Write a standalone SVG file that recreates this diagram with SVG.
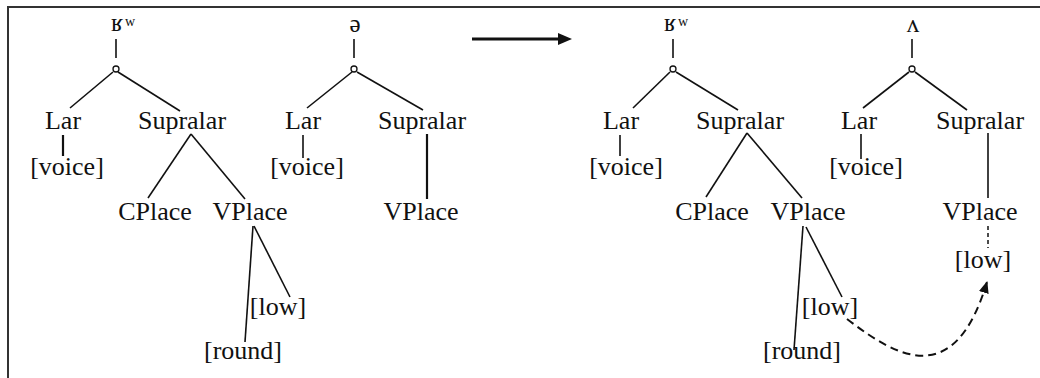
<svg xmlns="http://www.w3.org/2000/svg" width="1040" height="378" viewBox="0 0 1040 378">
<style>
text{font-family:"Liberation Serif","Times New Roman",serif;fill:#111;}
.t{font-size:26px;text-anchor:middle;}
.s{font-size:25px;}
.sup{font-size:14px;}
.e{stroke:#111;stroke-width:1.6;fill:none;}
.e2{stroke:#111;stroke-width:2.2;fill:none;}
.d{stroke:#111;stroke-width:1.5;fill:none;stroke-dasharray:4 3;}
.cd{stroke:#111;stroke-width:2;fill:none;stroke-dasharray:8 5;}
.c{fill:#fff;stroke:#111;stroke-width:1.3;}
</style>
<defs>
<marker id="ah" markerWidth="12" markerHeight="10" refX="11" refY="5" orient="auto" markerUnits="userSpaceOnUse">
<path d="M0,0 L12,5 L0,10 Z" fill="#111"/>
</marker>
</defs>
<rect width="1040" height="378" fill="#fff"/>
<g id="frame" stroke="#333" stroke-width="2" fill="none">
<path d="M8,378 L8,7 L1040,7"/>
</g>
<g id="connectors">
<!-- tree 1 -->
<line class="e" x1="116" y1="39" x2="116" y2="58"/>
<line class="e" x1="113" y1="72" x2="70" y2="108"/>
<line class="e" x1="118" y1="72" x2="180" y2="111"/>
<line class="e2" x1="63" y1="135" x2="63" y2="156"/>
<line class="e" x1="191" y1="134" x2="148" y2="198"/>
<line class="e" x1="191" y1="134" x2="245" y2="199"/>
<line class="e" x1="253" y1="226" x2="245" y2="342"/>
<line class="e" x1="254" y1="226" x2="290" y2="297"/>
<!-- tree 2 -->
<line class="e" x1="354" y1="39" x2="354" y2="58"/>
<line class="e" x1="352" y1="72" x2="307" y2="108"/>
<line class="e" x1="357" y1="72" x2="423" y2="110"/>
<line class="e" x1="303" y1="135" x2="303" y2="158"/>
<line class="e2" x1="427" y1="134" x2="427" y2="199"/>
<!-- arrow -->
<line x1="472" y1="39" x2="560" y2="39" stroke="#111" stroke-width="3"/>
<path d="M558,33 L572,39 L558,45 Z" fill="#111"/>
<!-- tree 3 -->
<line class="e" x1="673" y1="39" x2="673" y2="58"/>
<line class="e" x1="670" y1="72" x2="633" y2="108"/>
<line class="e" x1="676" y1="72" x2="738" y2="110"/>
<line class="e" x1="620" y1="135" x2="620" y2="156"/>
<line class="e" x1="747" y1="133" x2="706" y2="197"/>
<line class="e" x1="747" y1="133" x2="802" y2="198"/>
<line class="e" x1="803" y1="226" x2="794" y2="350"/>
<line class="e" x1="806" y1="227" x2="842" y2="297"/>
<!-- tree 4 -->
<line class="e" x1="912" y1="39" x2="912" y2="58"/>
<line class="e" x1="909" y1="72" x2="863" y2="108"/>
<line class="e" x1="915" y1="72" x2="967" y2="110"/>
<line class="e" x1="861" y1="134" x2="861" y2="159"/>
<line class="e" x1="988" y1="133" x2="988" y2="198"/>
<line class="d" x1="988" y1="226" x2="988" y2="248"/>
<path class="cd" d="M847,319 C900,360 955,388 987,282" marker-end="url(#ah)"/>
</g>
<g id="tree1">
<g id="t1-root"><text class="s" x="111" y="31">ʁ</text><text class="sup" x="125" y="26">w</text><circle class="c" cx="116" cy="69" r="3"/></g>
<g id="t1-lar"><text class="t" x="63" y="129">Lar</text></g>
<g id="t1-supralar"><text class="t" x="182" y="129">Supralar</text></g>
<g id="t1-voice"><text class="t" x="67" y="175">[voice]</text></g>
<g id="t1-cplace"><text class="t" x="155" y="220">CPlace</text></g>
<g id="t1-vplace"><text class="t" x="250" y="220">VPlace</text></g>
<g id="t1-low"><text class="t" x="278" y="315">[low]</text></g>
<g id="t1-round"><text class="t" x="243" y="359">[round]</text></g>
</g>
<g id="tree2">
<g id="t2-root"><text class="s" x="355" y="32" text-anchor="middle">ə</text><circle class="c" cx="354" cy="69" r="3"/></g>
<g id="t2-lar"><text class="t" x="303" y="129">Lar</text></g>
<g id="t2-supralar"><text class="t" x="422" y="129">Supralar</text></g>
<g id="t2-voice"><text class="t" x="307" y="175">[voice]</text></g>
<g id="t2-vplace"><text class="t" x="421" y="220">VPlace</text></g>
</g>
<g id="tree3">
<g id="t3-root"><text class="s" x="664" y="31">ʁ</text><text class="sup" x="678" y="26">w</text><circle class="c" cx="673" cy="69" r="3"/></g>
<g id="t3-lar"><text class="t" x="621" y="129">Lar</text></g>
<g id="t3-supralar"><text class="t" x="740" y="129">Supralar</text></g>
<g id="t3-voice"><text class="t" x="626" y="175">[voice]</text></g>
<g id="t3-cplace"><text class="t" x="712" y="220">CPlace</text></g>
<g id="t3-vplace"><text class="t" x="808" y="220">VPlace</text></g>
<g id="t3-low"><text class="t" x="830" y="315">[low]</text></g>
<g id="t3-round"><text class="t" x="802" y="359">[round]</text></g>
</g>
<g id="tree4">
<g id="t4-root"><text class="s" x="913" y="32" text-anchor="middle">ʌ</text><circle class="c" cx="912" cy="69" r="3"/></g>
<g id="t4-lar"><text class="t" x="859" y="129">Lar</text></g>
<g id="t4-supralar"><text class="t" x="980" y="129">Supralar</text></g>
<g id="t4-voice"><text class="t" x="866" y="175">[voice]</text></g>
<g id="t4-vplace"><text class="t" x="980" y="220">VPlace</text></g>
<g id="t4-low"><text class="t" x="983" y="268">[low]</text></g>
</g>
</svg>
